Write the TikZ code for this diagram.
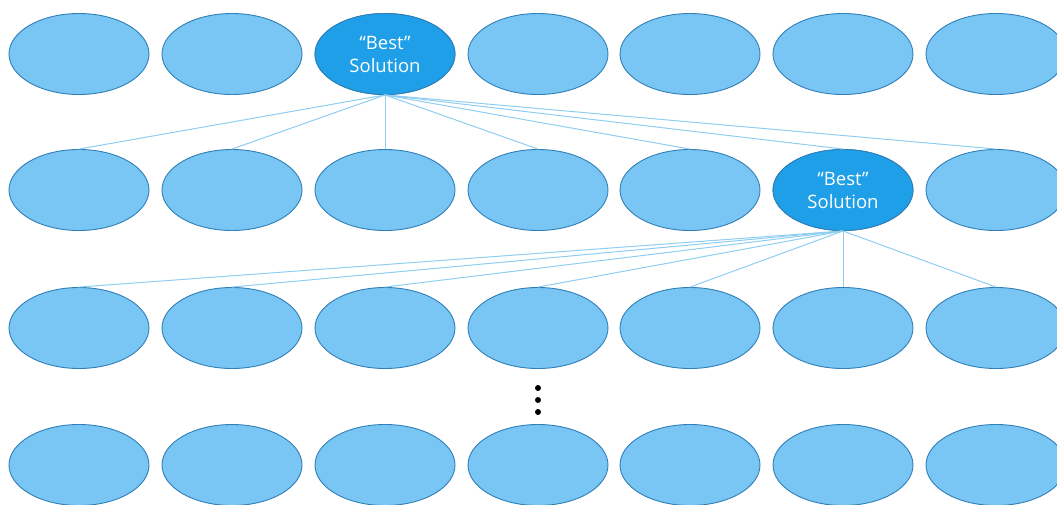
\documentclass[tikz,border=0pt]{standalone}
\usepackage{fontspec}
\setmainfont{Open Sans}
\usetikzlibrary{shapes.geometric}
\definecolor{cellfill}{HTML}{79C5F3}
\definecolor{cellline}{HTML}{2F7FB8}
\definecolor{bestfill}{HTML}{1E9FE8}
\definecolor{linkline}{HTML}{8FCDF1}
\tikzset{
  cell/.style={ellipse, draw=cellline, fill=cellfill, line width=0.9pt,
    minimum width=140pt, minimum height=81pt, inner sep=0pt},
  best/.style={cell, fill=bestfill, text=white, align=center,
    font=\fontsize{18.5}{23}\selectfont},
  link/.style={draw=linkline, line width=1pt},
  dot/.style={circle, fill=black, minimum size=6pt, inner sep=0pt}
}
\begin{document}
\begin{tikzpicture}[x=1pt, y=-1pt]
  \useasboundingbox (0,0) rectangle (1057,504);
  \clip (0,0) rectangle (1057,504);
  % four rows of seven candidate solutions
  \foreach \r/\y in {1/54, 2/190, 3/328, 4/465} {
    \foreach \c/\x in {1/79, 2/232, 3/385, 4/538, 5/690, 6/843, 7/996} {
      \node[cell] (r\r c\c) at (\x,\y) {};
    }
  }
  % the chosen solution in rows one and two
  \node[best] (r1c3) at (385,54) {“Best”\\Solution};
  \node[best] (r2c6) at (843,190) {“Best”\\Solution};
  % links from each chosen solution to every solution of the next row
  \foreach \c in {1,...,7} {
    \draw[link] (r1c3.south) -- (r2c\c.north);
    \draw[link] (r2c6.south) -- (r3c\c.north);
  }
  % vertical ellipsis between row three and row four
  \node[dot] (d1) at (538,388) {};
  \node[dot] (d2) at (538,400) {};
  \node[dot] (d3) at (538,412) {};
\end{tikzpicture}
\end{document}
